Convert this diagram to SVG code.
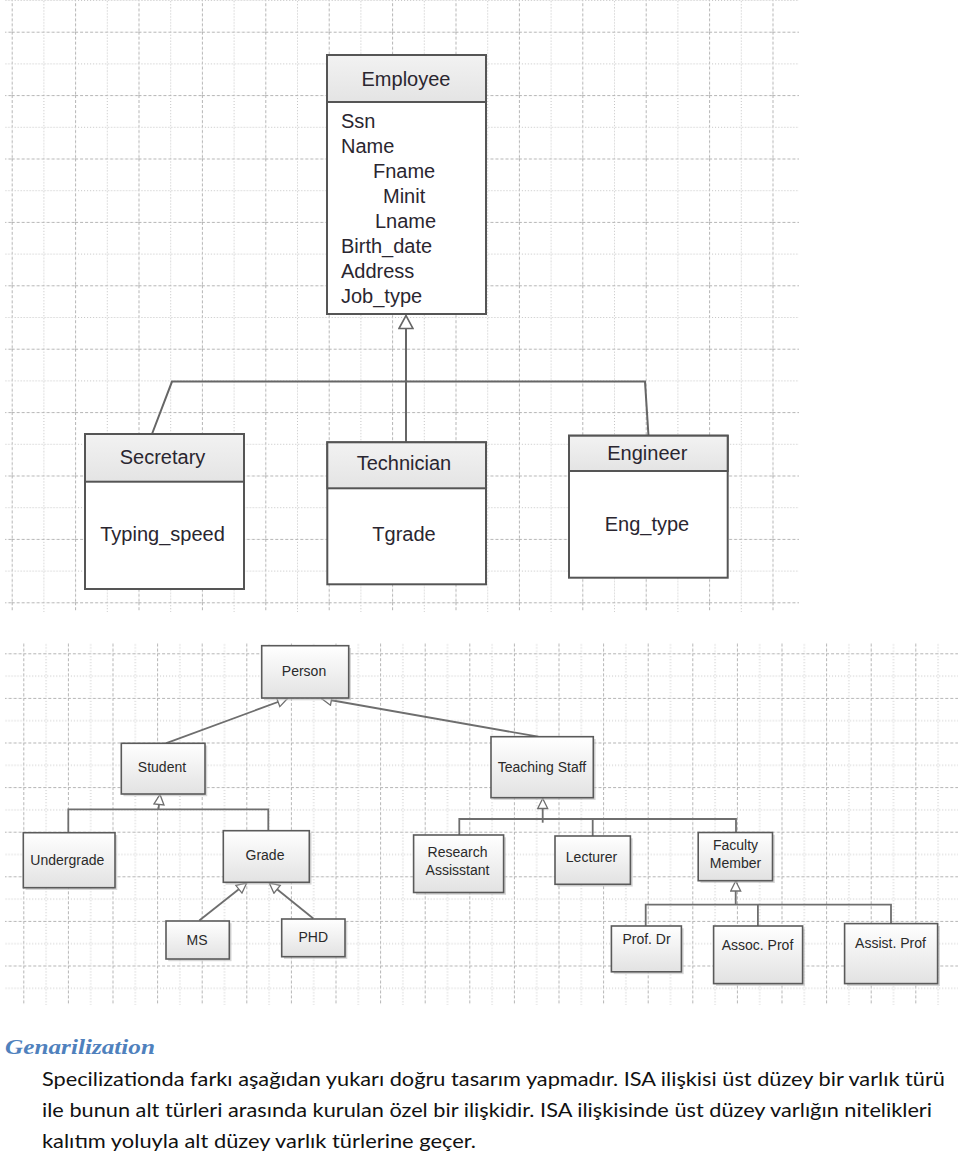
<svg xmlns="http://www.w3.org/2000/svg" width="960" height="1158" viewBox="0 0 960 1158">
<defs>
<style>
.gmaj{stroke:#b4b4b4;stroke-width:1;stroke-dasharray:3,2;fill:none}
.gmin{stroke:#c2c2c2;stroke-width:1;stroke-dasharray:1,2;fill:none}
.box{stroke:#555;stroke-width:2;fill:#fff}
.hdr{fill:url(#hg);stroke:#555;stroke-width:2}
.t20{font-family:"Liberation Sans",Arial,sans-serif;font-size:20px;fill:#2a2630}
.node{fill:url(#ng);stroke:#5a5a5a;stroke-width:1.6}
.shadow{fill:#bdbdbd;opacity:0.6}
.t14{font-family:"Liberation Sans",Arial,sans-serif;font-size:14px;fill:#2a2a2a;text-anchor:middle}
.c1{stroke:#666;stroke-width:2;fill:none}
.c2{stroke:#6e6e6e;stroke-width:1.8;fill:none}
.body{font-family:Lato,"Open Sans",sans-serif;font-size:20px;fill:#111}
</style>
<linearGradient id="hg" x1="0" y1="0" x2="0" y2="1"><stop offset="0" stop-color="#f2f2f2"/><stop offset="1" stop-color="#e4e4e4"/></linearGradient>
<linearGradient id="ng" x1="0" y1="0" x2="0" y2="1"><stop offset="0" stop-color="#ffffff"/><stop offset="1" stop-color="#e2e2e2"/></linearGradient>
<pattern id="gridTop" patternUnits="userSpaceOnUse" x="11.7" y="31.7" width="63.4" height="63.4">
<line class="gmaj" x1="0.5" y1="0" x2="0.5" y2="63.4"/>
<line class="gmin" x1="32.2" y1="0" x2="32.2" y2="63.4"/>
<line class="gmaj" x1="0" y1="0.5" x2="63.4" y2="0.5"/>
<line class="gmin" x1="0" y1="32.2" x2="63.4" y2="32.2"/>
</pattern>
<pattern id="gridBot" patternUnits="userSpaceOnUse" x="23.3" y="653.3" width="44.6" height="44.6">
<line class="gmaj" x1="0.5" y1="0" x2="0.5" y2="44.6"/>
<line class="gmin" x1="22.8" y1="0" x2="22.8" y2="44.6"/>
<line class="gmaj" x1="0" y1="0.5" x2="44.6" y2="0.5"/>
<line class="gmin" x1="0" y1="22.8" x2="44.6" y2="22.8"/>
</pattern>
<marker id="triBig" markerUnits="userSpaceOnUse" markerWidth="16" markerHeight="16" viewBox="0 0 14 16" refX="14" refY="8" orient="auto">
<path d="M1,1 L14,8 L1,15 Z" fill="#fff" stroke="#666" stroke-width="1.6"/>
</marker>
<marker id="triSm" markerUnits="userSpaceOnUse" markerWidth="12" markerHeight="12" viewBox="0 0 11 12" refX="11" refY="6" orient="auto">
<path d="M1,1 L11,6 L1,11 Z" fill="#fff" stroke="#6e6e6e" stroke-width="1.3"/>
</marker>
</defs>

<rect x="0" y="0" width="960" height="1158" fill="#fff"/>
<g id="grid-top"><rect x="5" y="0" width="794" height="612" fill="url(#gridTop)"/></g>
<g id="grid-bottom"><rect x="5" y="643" width="953" height="362" fill="url(#gridBot)"/></g>

<g id="connectors">
<path class="c1" d="M406,442 L406,315.5" marker-end="url(#triBig)"/>
<path class="c1" d="M152,434 L172,381.6 L645,381.6 L648.5,436"/>
<path class="c2" d="M165.7,743.3 L287.5,698.5" marker-end="url(#triSm)"/>
<path class="c2" d="M538.3,736.7 L321.5,698.5" marker-end="url(#triSm)"/>
<path class="c2" d="M158.5,809.3 L160,794.5" marker-end="url(#triSm)"/>
<path class="c2" d="M68.3,832.5 L68.3,809.3 L268.3,809.3 L268.3,830.7"/>
<path class="c2" d="M199.3,920.5 L246.7,883" marker-end="url(#triSm)"/>
<path class="c2" d="M313.3,918.5 L269.3,883" marker-end="url(#triSm)"/>
<path class="c2" d="M542.7,822.7 L542.7,798.5" marker-end="url(#triSm)"/>
<path class="c2" d="M459.3,835 L459.3,819 L736,819 L736,832.5"/>
<path class="c2" d="M592.7,819 L592.7,836"/>
<path class="c2" d="M735.7,904.6 L735.7,881" marker-end="url(#triSm)"/>
<path class="c2" d="M645.7,926 L645.7,904.6 L891,904.6 L891,923.6"/>
<path class="c2" d="M757.9,904.6 L757.9,926"/>
</g>

<g id="employee">
<rect class="box" x="327" y="55" width="159" height="259"/>
<rect class="hdr" x="327" y="55" width="159" height="47"/>
<text class="t20" x="406" y="86" text-anchor="middle">Employee</text>
<text class="t20" x="341" y="128">Ssn</text>
<text class="t20" x="341" y="153">Name</text>
<text class="t20" x="373" y="178">Fname</text>
<text class="t20" x="383" y="203">Minit</text>
<text class="t20" x="375" y="228">Lname</text>
<text class="t20" x="341" y="253">Birth_date</text>
<text class="t20" x="341" y="278">Address</text>
<text class="t20" x="341" y="303">Job_type</text>
</g>
<g id="secretary">
<rect class="box" x="85" y="434" width="159" height="155"/>
<rect class="hdr" x="85" y="434" width="159" height="47.7"/>
<text class="t20" x="162.5" y="464" text-anchor="middle">Secretary</text>
<text class="t20" x="162.5" y="541" text-anchor="middle">Typing_speed</text>
</g>
<g id="technician">
<rect class="box" x="327.3" y="442.3" width="158.7" height="142"/>
<rect class="hdr" x="327.3" y="442.3" width="158.7" height="46"/>
<text class="t20" x="404" y="470" text-anchor="middle">Technician</text>
<text class="t20" x="404" y="541" text-anchor="middle">Tgrade</text>
</g>
<g id="engineer">
<rect class="box" x="569" y="435.7" width="158.7" height="142"/>
<rect class="hdr" x="569" y="435.7" width="158.7" height="35.3"/>
<text class="t20" x="647.3" y="460" text-anchor="middle">Engineer</text>
<text class="t20" x="647" y="531" text-anchor="middle">Eng_type</text>
</g>

<g id="person">
<rect class="shadow" x="264" y="648" width="87" height="52.3"/>
<rect class="node" x="261.7" y="645.7" width="87" height="52.3"/>
<text class="t14" x="304" y="676">Person</text>
</g>
<g id="student">
<rect class="shadow" x="123.5" y="745.5" width="83.7" height="50.7"/>
<rect class="node" x="121.3" y="743.3" width="83.7" height="50.7"/>
<text class="t14" x="162" y="772">Student</text>
</g>
<g id="teaching-staff">
<rect class="shadow" x="493.3" y="739" width="102.3" height="61"/>
<rect class="node" x="491" y="736.7" width="102.3" height="61"/>
<text class="t14" x="542" y="772">Teaching Staff</text>
</g>
<g id="undergrade">
<rect class="shadow" x="25.5" y="835" width="91.7" height="55"/>
<rect class="node" x="23.3" y="832.7" width="91.7" height="55"/>
<text class="t14" x="67.3" y="865">Undergrade</text>
</g>
<g id="grade">
<rect class="shadow" x="225.5" y="833" width="86" height="51.6"/>
<rect class="node" x="223.3" y="830.7" width="86" height="51.6"/>
<text class="t14" x="265" y="860">Grade</text>
</g>
<g id="ms">
<rect class="shadow" x="168.2" y="923.2" width="63.3" height="38"/>
<rect class="node" x="166" y="921" width="63.3" height="38"/>
<text class="t14" x="197" y="945">MS</text>
</g>
<g id="phd">
<rect class="shadow" x="284" y="921.2" width="63.3" height="37.7"/>
<rect class="node" x="281.7" y="919" width="63.3" height="37.7"/>
<text class="t14" x="313.3" y="942">PHD</text>
</g>
<g id="research-assistant">
<rect class="shadow" x="416" y="837.3" width="90" height="57.5"/>
<rect class="node" x="413.6" y="835" width="90" height="57.5"/>
<text class="t14" x="457.5" y="857">Research</text>
<text class="t14" x="457.5" y="875">Assisstant</text>
</g>
<g id="lecturer">
<rect class="shadow" x="557.3" y="838.3" width="75.4" height="48.3"/>
<rect class="node" x="555" y="836" width="75.4" height="48.3"/>
<text class="t14" x="591.5" y="862">Lecturer</text>
</g>
<g id="faculty-member">
<rect class="shadow" x="700.5" y="834.8" width="74.3" height="48.2"/>
<rect class="node" x="698.2" y="832.5" width="74.3" height="48.2"/>
<text class="t14" x="735.5" y="850">Faculty</text>
<text class="t14" x="735.5" y="868">Member</text>
</g>
<g id="prof-dr">
<rect class="shadow" x="613.7" y="928.3" width="70" height="45.8"/>
<rect class="node" x="611.4" y="926" width="70" height="45.8"/>
<text class="t14" x="646.5" y="944">Prof. Dr</text>
</g>
<g id="assoc-prof">
<rect class="shadow" x="716" y="928.3" width="89" height="57.6"/>
<rect class="node" x="713.6" y="926" width="89" height="57.6"/>
<text class="t14" x="757.5" y="950">Assoc. Prof</text>
</g>
<g id="assist-prof">
<rect class="shadow" x="847" y="926" width="93" height="60"/>
<rect class="node" x="844.6" y="923.6" width="93" height="60"/>
<text class="t14" x="890.5" y="948">Assist. Prof</text>
</g>

<g id="caption">
<text x="5" y="1054" font-family="'Liberation Serif',serif" font-style="italic" font-weight="bold" font-size="22" fill="#4f81bd" textLength="150" lengthAdjust="spacingAndGlyphs">Genarilization</text>
<text class="body" x="42" y="1086" textLength="903" lengthAdjust="spacingAndGlyphs">Specilizationda farkı aşağıdan yukarı doğru tasarım yapmadır. ISA ilişkisi üst düzey bir varlık türü</text>
<text class="body" x="42" y="1117" textLength="890" lengthAdjust="spacingAndGlyphs">ile bunun alt türleri arasında kurulan özel bir ilişkidir. ISA ilişkisinde üst düzey varlığın nitelikleri</text>
<text class="body" x="42" y="1148" textLength="434" lengthAdjust="spacingAndGlyphs">kalıtım yoluyla alt düzey varlık türlerine geçer.</text>
</g>
</svg>
